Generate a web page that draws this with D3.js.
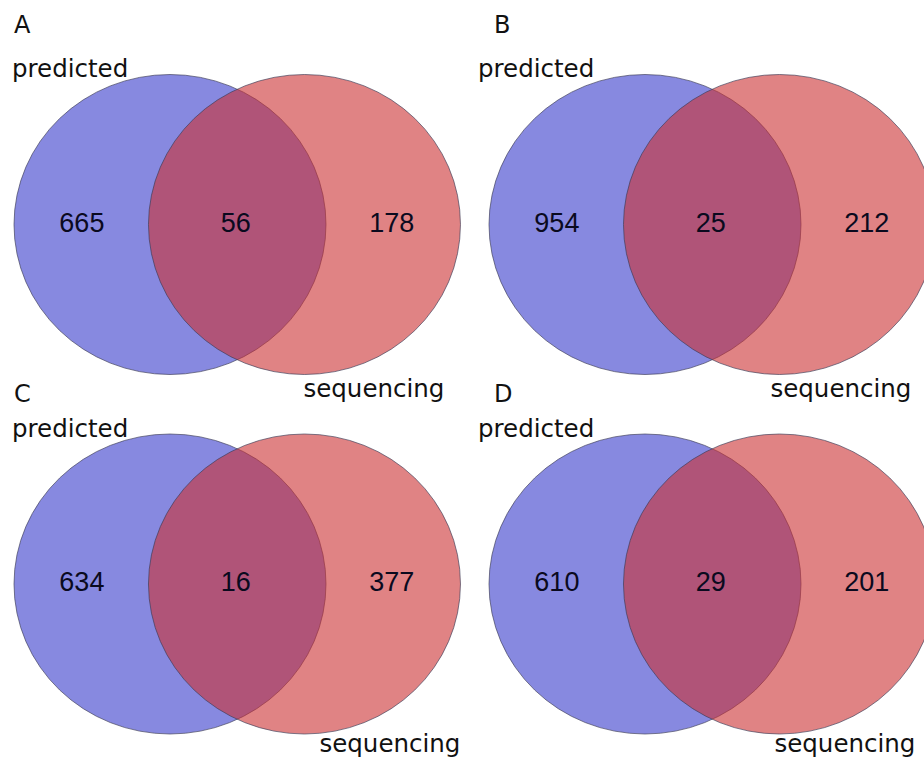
<!DOCTYPE html>
<html>
<head>
<meta charset="utf-8">
<script src="https://cdn.jsdelivr.net/npm/d3@7"></script>
<style>
  html, body { margin: 0; padding: 0; background: #fff; }
  svg { display: block; }
</style>
</head>
<body>
<div id="chart"></div>
<script>
const PANELS = ["A", "B", "C", "D"];
const SET_NAMES = ["predicted", "sequencing"];
const PREDICTED_ONLY = [665, 954, 634, 610];
const BOTH = [56, 25, 16, 29];
const SEQUENCING_ONLY = [178, 212, 377, 201];

const width = 924, height = 760;
const rx = 156, ry = 150;   // source image is slightly stretched sideways
const gap = 0.862;          // centre distance in radius units

const svg = d3.select("#chart").append("svg")
  .attr("width", width)
  .attr("height", height);

// panel grid: column / row -> position of the "predicted" circle centre
const colX = d3.scaleLinear().domain([0, 1]).range([170, 645]);
const rowY = d3.scaleLinear().domain([0, 1]).range([224.5, 584]);
const letterX = d3.scaleLinear().domain([0, 1]).range([14, 494]);
const letterY = d3.scaleLinear().domain([0, 1]).range([33, 402]);
const predX = d3.scaleLinear().domain([0, 1]).range([12, 478]);
const predY = d3.scaleLinear().domain([0, 1]).range([77, 437]);
const seqY = d3.scaleLinear().domain([0, 1]).range([397, 752]);
// "sequencing" label nudge from the red centre, per panel (as in source)
const seqDx = [-1, -9, 15, -5];

// local venn coordinates, in radius units
const u = d3.scaleLinear().domain([0, 1]).range([0, rx]);

const sets = [
  { name: SET_NAMES[0], pos: 0,   color: "#373acb" },
  { name: SET_NAMES[1], pos: gap, color: "#cb3032" },
];

PANELS.forEach((letter, i) => {
  const col = i % 2, row = Math.floor(i / 2);
  const g = svg.append("g")
    .attr("transform", `translate(${colX(col)},${rowY(row)})`);

  g.selectAll("ellipse")
    .data(sets)
    .join("ellipse")
    .attr("cx", (d) => u(d.pos))
    .attr("cy", 0)
    .attr("rx", rx)
    .attr("ry", ry)
    .attr("fill", (d) => d.color)
    .attr("fill-opacity", 0.6)
    .attr("stroke", "#3a3a55")
    .attr("stroke-opacity", 0.65)
    .attr("stroke-width", 1);

  const counts = [
    { v: PREDICTED_ONLY[i], pos: -0.565 },
    { v: BOTH[i],           pos: gap / 2 - 0.01 },
    { v: SEQUENCING_ONLY[i], pos: gap + 0.56 },
  ];

  g.selectAll("text.count")
    .data(counts)
    .join("text")
    .attr("class", "count")
    .attr("x", (d) => u(d.pos))
    .attr("y", 7)
    .attr("text-anchor", "middle")
    .attr("font-family", "'Liberation Sans', Arial, sans-serif")
    .attr("font-size", "27px")
    .attr("fill", "#0a0a1e")
    .text((d) => d.v);

  // panel letter
  svg.append("text")
    .attr("x", letterX(col)).attr("y", letterY(row))
    .attr("font-family", "'DejaVu Sans', sans-serif")
    .attr("font-size", "24px").attr("fill", "#111")
    .text(letter);

  // set names
  svg.append("text")
    .attr("x", predX(col)).attr("y", predY(row))
    .attr("font-family", "'DejaVu Sans', sans-serif")
    .attr("font-size", "24.5px").attr("fill", "#111")
    .text(SET_NAMES[0]);

  svg.append("text")
    .attr("x", colX(col) + u(gap) + seqDx[i]).attr("y", seqY(row))
    .attr("font-family", "'DejaVu Sans', sans-serif")
    .attr("font-size", "24.5px").attr("fill", "#111")
    .text(SET_NAMES[1]);
});
</script>
</body>
</html>
